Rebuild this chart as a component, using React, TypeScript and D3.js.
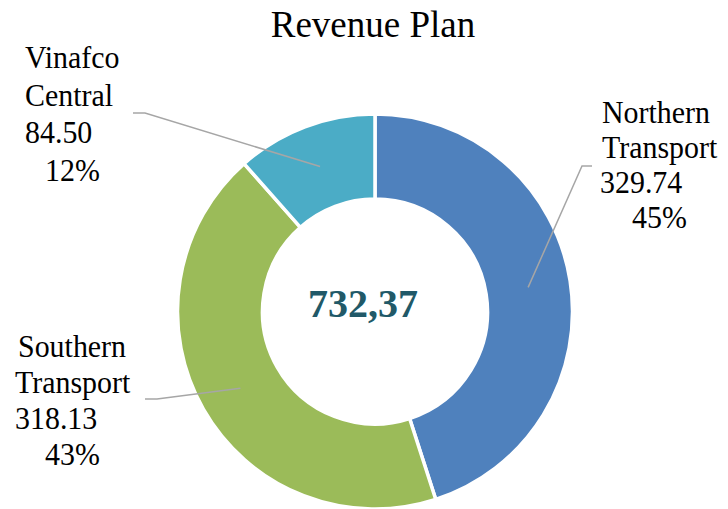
import React from "react";
import * as d3 from "d3";

const categories = ["Northern Transport", "Southern Transport", "Vinafco Central"];
const values = [329.74, 318.13, 84.5];
const valueLabels = ["329.74", "318.13", "84.50"];
const percentLabels = ["45%", "43%", "12%"];
const colors = ["#4F81BD", "#9BBB59", "#4BACC6"];
const totalLabel = "732,37";
const title = "Revenue Plan";

// label layout (text lines, positions)
const labelLayout = [
  { lines: [["Northern", 602], ["Transport", 602], [valueLabels[0], 600], [percentLabels[0], 632]], y0: 123, dy: 35, anchor: [592, 166], elbow: [582, 166] },
  { lines: [["Southern", 18], ["Transport", 15], [valueLabels[1], 15], [percentLabels[1], 45]], y0: 357, dy: 36, anchor: [145, 399], elbow: [157, 399] },
  { lines: [["Vinafco", 25], ["Central", 25], [valueLabels[2], 25], [percentLabels[2], 45]], y0: 68, dy: 37.5, anchor: [133, 113], elbow: [145, 113] },
];

const FONT = "'Liberation Serif', 'Times New Roman', serif";

export default function App() {
  const W = 728, H = 509;
  const cx = 375, cy = 311.5;
  const rOuter = 197.5, rInner = 112.5;
  const pie = d3.pie<number>().sort(null).startAngle(0).endAngle(2 * Math.PI);
  const arcs = pie(values);
  const arc = d3.arc<d3.PieArcDatum<number>>().innerRadius(rInner).outerRadius(rOuter);
  const leaderArc = d3.arc<d3.PieArcDatum<number>>().innerRadius(155).outerRadius(155);
  return (
    <svg width={W} height={H} style={{ position: "absolute", left: 0, top: 0, fontFamily: FONT }}>
      <rect width={W} height={H} fill="#fff" />
      <text x={373} y={37} fontSize={37} textAnchor="middle" fill="#000">{title}</text>
      <g transform={`translate(${cx},${cy})`}>
        {arcs.map((a, i) => (
          <path key={categories[i]} d={arc(a) || ""} fill={colors[i]} stroke="#fff" strokeWidth={3.5} />
        ))}
      </g>
      {arcs.map((a, i) => {
        const [ex, ey] = leaderArc.centroid(a);
        const L = labelLayout[i];
        return (
          <polyline key={"l" + i}
            points={`${L.anchor[0]},${L.anchor[1]} ${L.elbow[0]},${L.elbow[1]} ${cx + ex},${cy + ey}`}
            fill="none" stroke="#A6A6A6" strokeWidth={1.5} />
        );
      })}
      {labelLayout.map((L, i) => (
        <g key={"t" + i}>
          {L.lines.map(([t, x], j) => (
            <text key={j} transform={`translate(${x},${L.y0 + j * L.dy}) scale(0.95,1)`} fontSize={31.5} fill="#000">{t}</text>
          ))}
        </g>
      ))}
      <text x={cx - 12} y={317} fontSize={40} fontWeight="bold" textAnchor="middle" fill="#215968">{totalLabel}</text>
    </svg>
  );
}
